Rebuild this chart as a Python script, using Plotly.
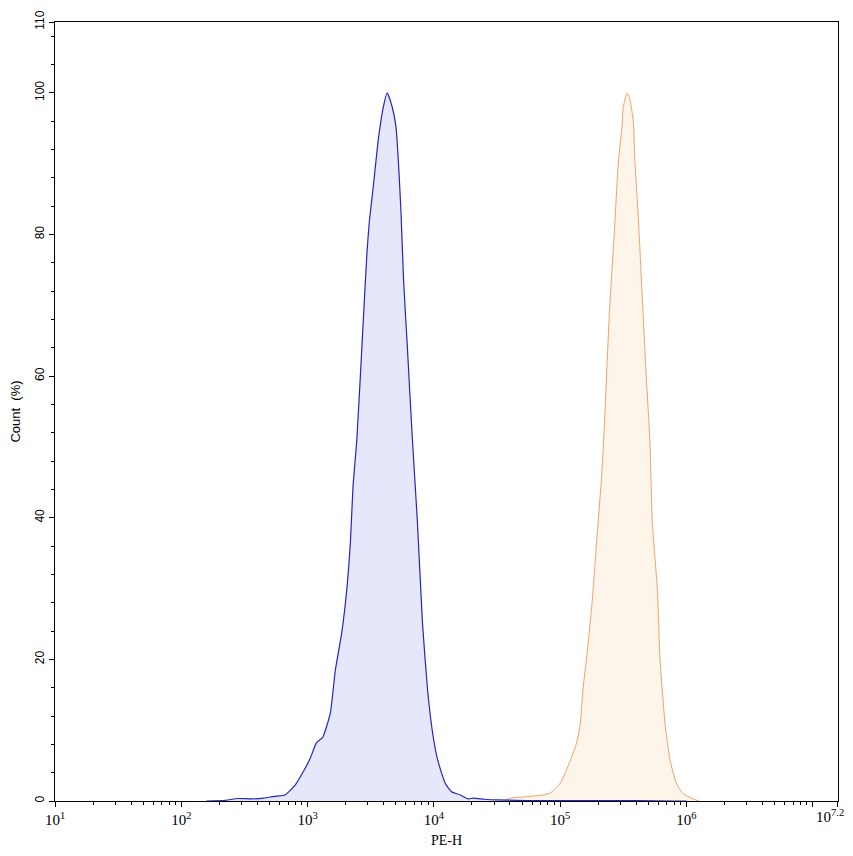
import plotly.graph_objects as go

# PE-H histogram outlines, x as log10(PE-H), y as Count (%)
blue_log10_pe = [2.20, 2.35, 2.45, 2.55, 2.65, 2.70, 2.76, 2.82, 2.90, 2.96,
                 3.02, 3.07, 3.12, 3.18, 3.22, 3.27, 3.31, 3.34, 3.36, 3.39,
                 3.43, 3.47, 3.49, 3.52, 3.56, 3.60, 3.63, 3.67, 3.70, 3.72,
                 3.74, 3.76, 3.79, 3.83, 3.87, 3.91, 3.95, 3.99, 4.03, 4.09,
                 4.14, 4.21, 4.27, 4.31, 4.40, 4.50, 4.65, 4.80, 5.00, 5.30,
                 5.60, 5.90, 6.00]
blue_count = [0, 0.1, 0.35, 0.3, 0.4, 0.56, 0.7, 0.85, 2.2, 3.95,
              6.0, 8.2, 9.0, 12.4, 18.5, 23.7, 29.8, 36.9, 44.5, 51,
              64.1, 77.4, 82, 86.7, 93.4, 98, 100, 98, 95.2, 90,
              83, 73.6, 64.1, 51, 39.3, 25.1, 15.7, 9.6, 5.8, 2.5,
              1.3, 0.85, 0.3, 0.4, 0.25, 0.15, 0.1, 0.05, 0.05, 0.05,
              0.05, 0, 0]

orange_log10_pe = [3.25, 3.30, 3.60, 3.90, 4.00, None,
                   4.55, 4.60, 4.71, 4.86, 4.92, 5.00, 5.06, 5.13, 5.16, 5.18,
                   5.21, 5.25, 5.29, 5.33, 5.35, 5.39, 5.43, 5.46, 5.49, 5.50,
                   5.53, 5.55, 5.58, 5.59, 5.62, 5.65, 5.68, 5.71, 5.73, 5.77,
                   5.79, 5.83, 5.87, 5.92, 5.97, 6.05, 6.10]
orange_count = [0, 0.2, 0.25, 0.2, 0, None,
                0, 0.4, 0.56, 0.85, 1.1, 2.5, 4.8, 8.2, 11, 15.7,
                20.3, 27.4, 36.9, 46.3, 53, 69, 80.6, 90.1, 95.2, 98,
                100, 99.3, 95.8, 91, 82, 71.2, 60.5, 51, 39.3, 29.8,
                20.3, 11, 5.8, 2.5, 1.1, 0.3, 0]

x_tick_exp = [1, 2, 3, 4, 5, 6, 7, 7.1999]
x_tick_text = ["10<sup>1</sup>", "10<sup>2</sup>", "10<sup>3</sup>", "10<sup>4</sup>",
               "10<sup>5</sup>", "10<sup>6</sup>", "", ""]
x_end_label = "10<sup>7.2</sup>"
y_tick_vals = [0, 20, 40, 60, 80, 100, 110]


def to_lin(vals):
    return [None if v is None else 10 ** v for v in vals]


fig = go.Figure()
fig.add_trace(go.Scatter(
    x=to_lin(orange_log10_pe), y=orange_count, mode="lines",
    line=dict(color="#eda36a", width=1, shape="spline", smoothing=0.5), fill="tozeroy",
    fillcolor="#fdf4ea", connectgaps=False, hoverinfo="skip",
))
fig.add_trace(go.Scatter(
    x=to_lin(blue_log10_pe), y=blue_count, mode="lines",
    line=dict(color="#2424c4", width=1.2, shape="spline", smoothing=0.5), fill="tozeroy",
    fillcolor="#e6e7fb", hoverinfo="skip",
))

# minor log ticks 2..9 per decade
minor_x = [m * 10 ** d for d in range(1, 8) for m in range(2, 10) if m * 10 ** d <= 10 ** 7.2]
minor_y = [v for v in range(0, 111, 4) if v % 20 != 0]

fig.update_xaxes(
    type="log", range=[1, 7.2], automargin=False, ticklabeloverflow="allow",
    tickmode="array", tickvals=[10 ** e for e in x_tick_exp], ticktext=x_tick_text,
    ticks="outside", ticklen=5, tickwidth=1, tickcolor="black",
    minor=dict(tickmode="array", tickvals=minor_x, ticks="outside", ticklen=3,
               tickcolor="black", showgrid=False),
    showline=True, linecolor="black", linewidth=1, mirror=True,
    showgrid=False, zeroline=False,
    tickfont=dict(family="Liberation Serif", size=15, color="black"),
    title=dict(text="PE-H", font=dict(family="Liberation Serif", size=14, color="black"),
               standoff=10),
)
fig.update_yaxes(
    range=[0, 110], automargin=False,
    tickmode="array", tickvals=y_tick_vals,
    ticks="outside", ticklen=5, tickwidth=1, tickcolor="black",
    minor=dict(tickmode="array", tickvals=minor_y, ticks="outside", ticklen=3,
               tickcolor="black", showgrid=False),
    showline=True, linecolor="black", linewidth=1, mirror=True,
    showgrid=False, zeroline=False, tickangle=-90,
    tickfont=dict(family="Liberation Sans", size=12, color="black"),
    title=dict(text="Count  (%)", font=dict(family="Liberation Sans", size=13, color="black"),
               standoff=10),
)

# last x label kept inside the figure edge so it is not clipped
fig.add_annotation(
    text=x_end_label, xref="paper", yref="paper", x=1, y=0,
    xanchor="right", yanchor="top", xshift=7, yshift=-5,
    showarrow=False, borderpad=0,
    font=dict(family="Liberation Serif", size=15, color="black"),
)

# the page body adds 8px on each side, so the figure is 16px smaller
fig.update_layout(
    width=837, height=840,
    margin=dict(l=47, r=7, t=14, b=47),
    plot_bgcolor="white", paper_bgcolor="white",
    showlegend=False,
)

fig.write_html("out.html")
